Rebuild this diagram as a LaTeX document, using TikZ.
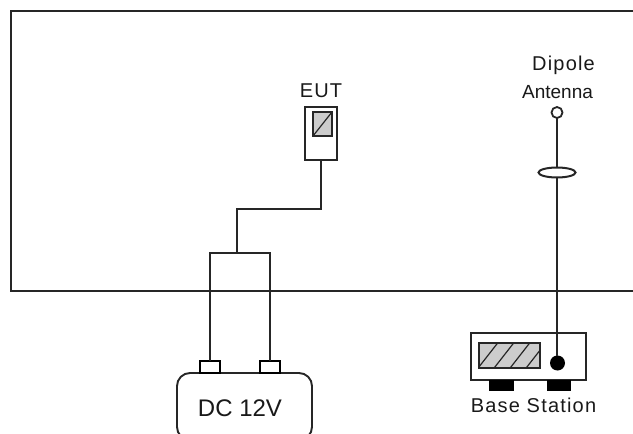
\documentclass[tikz,border=0pt]{standalone}
\usepackage{fontspec}
\usetikzlibrary{shapes.geometric}
\setmainfont{Liberation Sans}
\newfontfamily\spaced[LetterSpace=6]{Liberation Sans}
\begin{document}
\begin{tikzpicture}[x=1pt,y=-1pt,outer sep=0pt,
  wire/.style={draw=black!85,line width=1.9pt},
  chamber/.style={draw=black!85,line width=2pt},
  boxed/.style={draw=black!85,line width=1.9pt,fill=white,rectangle,inner sep=0pt,anchor=north west},
  shaded/.style={draw=black!85,line width=1.9pt,fill=black!20,rectangle,inner sep=0pt,anchor=north west},
  hatch/.style={draw=black!85,line width=1.2pt},
  foot/.style={fill=black,rectangle,inner sep=0pt,anchor=north west,minimum width=25pt,minimum height=11pt},
  plug/.style={draw=black,line width=1.9pt,fill=white,rectangle,inner sep=0pt,anchor=north west,minimum width=20pt,minimum height=12pt},
  label/.style={inner sep=0pt,text=black!90}]
\useasboundingbox (0,0) rectangle (633,434);
\clip (0,0) rectangle (633,434);
% chamber
\coordinate (c1) at (633,11);
\coordinate (c2) at (11,11);
\coordinate (c3) at (11,291);
\coordinate (c4) at (633,291);
\draw[chamber] (c1) -- (c2) -- (c3) -- (c4);
% EUT
\node[label] (eutlabel) at (321,90.5) {\fontsize{20}{20}\selectfont\spaced EUT};
\node[boxed,minimum width=32pt,minimum height=53pt] (eut) at (305,107) {};
\node[shaded,minimum width=19pt,minimum height=24pt] (screen) at (313,112) {};
\draw[hatch] (screen.south west) -- (screen.north east);
% wiring
\coordinate (bend1) at (321,209);
\coordinate (bend2) at (237,209);
\coordinate (tee) at (237,253);
\coordinate (teeL) at (210,253);
\coordinate (teeR) at (270,253);
% DC supply
\node[draw=black!85,line width=1.9pt,fill=white,rectangle,rounded corners=13pt,inner sep=0pt,anchor=north west,minimum width=135pt,minimum height=67pt] (dc) at (177,373) {};
\node[plug] (plugL) at (200,361) {};
\node[plug] (plugR) at (260,361) {};
\node[label] (dclabel) at (240,408) {\fontsize{24}{24}\selectfont DC 12V};
\draw[wire] (eut.south) -- (bend1) -- (bend2) -- (tee);
\draw[wire] (plugL.north) -- (plugL.north |- teeL) -- (plugR.north |- teeR) -- (plugR.north);
% base station
\node[boxed,minimum width=115pt,minimum height=47pt] (bs) at (471,333) {};
\node[shaded,minimum width=61pt,minimum height=25pt] (bsscreen) at (479,343) {};
\begin{scope}
\clip (479,343) rectangle (540,368);
\foreach \i in {0,1,2,3}{
  \draw[hatch] (475+\i*16,372) -- (500+\i*16,340);
}
\end{scope}
\node[foot] (footL) at (489,380) {};
\node[foot,minimum width=24pt] (footR) at (547,380) {};
\node[circle,fill=black,inner sep=0pt,minimum size=15pt] (port) at (557.5,363) {};
\node[label] (bslabel) at (533.5,405) {\fontsize{20}{20}\selectfont\spaced Base Station};
% antenna
\node[circle,draw=black!85,line width=1.8pt,fill=white,inner sep=0pt,minimum size=11pt] (ant) at (557,112.5) {};
\draw[wire] (ant.south) -- (port.north -| ant.south);
\node[ellipse,draw=black!85,line width=2pt,fill=white,inner sep=0pt,minimum width=37pt,minimum height=10pt] (ring) at (557,172.5) {};
\node[label] (dipole) at (563.5,65) {\fontsize{20}{20}\selectfont\spaced Dipole};
\node[label] (antenna) at (557.5,92) {\fontsize{19}{19}\selectfont Antenna};
\end{tikzpicture}
\end{document}
